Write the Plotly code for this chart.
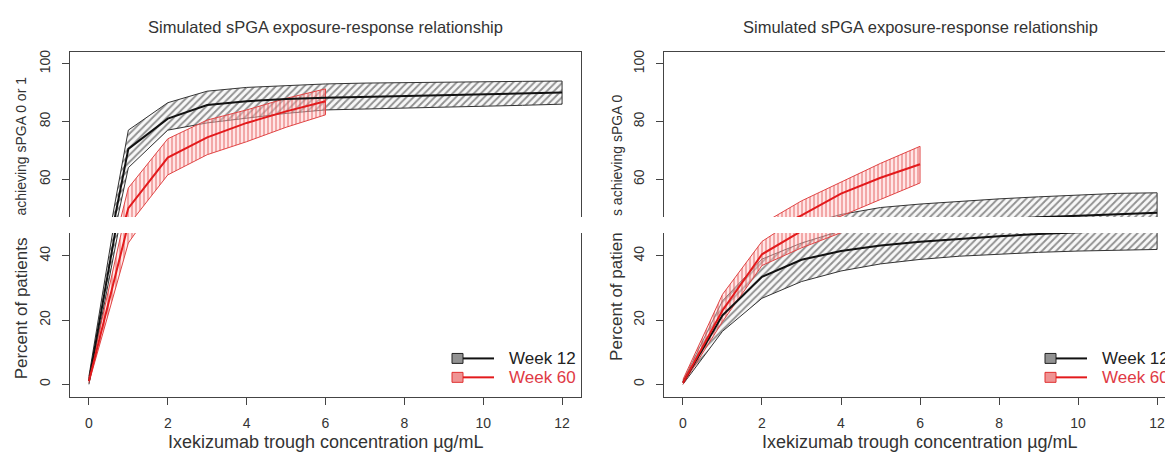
import plotly.graph_objects as go

W, H = 1165, 455
FONT = "Liberation Sans, Arial, sans-serif"
TXT = "#333333"
AX = "#444444"
BLACK = "#111111"
RED = "#e31a1c"
RED_TXT = "#e03a45"

# ---- data -------------------------------------------------------------
conc_w12 = [0, 1, 2, 3, 4, 5, 6, 7, 8, 9, 10, 11, 12]
conc_w60 = [0, 1, 2, 3, 4, 5, 6]
x_ticks = [0, 2, 4, 6, 8, 10, 12]
y_ticks_upper = [60, 80, 100]
y_ticks_lower = [0, 20, 40]
series_names = ["Week 12", "Week 60"]

# sPGA 0 or 1 : median and band limits
w12_med_01 = [1.0, 70.5, 81.0, 85.7, 87.0, 87.8, 88.2, 88.5, 88.8, 89.1, 89.4, 89.7, 90.0]
w12_lo_01 = [0.0, 64.0, 77.0, 79.5, 81.2, 82.8, 84.0, 84.3, 84.6, 84.9, 85.3, 85.6, 86.0]
w12_hi_01 = [2.5, 77.0, 86.5, 90.5, 91.8, 92.5, 93.0, 93.3, 93.5, 93.7, 93.8, 93.9, 94.0]
w60_med_01 = [1.0, 50.0, 67.5, 74.5, 79.5, 83.5, 87.0]
w60_lo_01 = [0.5, 44.0, 61.5, 68.5, 73.0, 78.0, 82.3]
w60_hi_01 = [2.0, 57.0, 74.0, 80.5, 84.0, 88.0, 91.3]

# sPGA 0 : median and band limits
w12_med_0 = [0.5, 21.5, 33.5, 38.8, 41.5, 43.2, 44.4, 45.3, 46.1, 46.8, 47.4, 47.9, 48.4]
w12_lo_0 = [0.0, 16.5, 26.8, 32.0, 35.3, 37.5, 38.9, 39.9, 40.6, 41.1, 41.5, 41.8, 42.0]
w12_hi_0 = [1.0, 26.0, 39.0, 44.0, 47.8, 50.2, 51.4, 52.4, 53.2, 53.9, 54.5, 55.1, 55.3]
w60_med_0 = [0.5, 23.0, 40.5, 47.5, 55.0, 60.5, 65.2]
w60_lo_0 = [0.0, 19.5, 37.0, 42.5, 47.2, 53.0, 58.7]
w60_hi_0 = [1.5, 28.0, 44.5, 52.5, 59.0, 65.5, 71.4]


def fx(p):
    return p / W


def fy(p):
    return 1 - p / H


fig = go.Figure()

panels = [
    dict(axes=[("x", "y"), ("x2", "y2")],
         w12=(w12_med_01, w12_lo_01, w12_hi_01),
         w60=(w60_med_01, w60_lo_01, w60_hi_01)),
    dict(axes=[("x3", "y3"), ("x4", "y4")],
         w12=(w12_med_0, w12_lo_0, w12_hi_0),
         w60=(w60_med_0, w60_lo_0, w60_hi_0)),
]


def band(xs, lo, hi, xa, ya, pattern, edge):
    return go.Scatter(
        x=list(xs) + list(xs)[::-1],
        y=list(hi) + list(lo)[::-1],
        xaxis=xa, yaxis=ya, mode="lines", fill="toself",
        line=dict(color=edge, width=1),
        fillcolor="rgba(0,0,0,0)",
        fillpattern=pattern,
        hoverinfo="skip", showlegend=False,
    )


pat12 = dict(shape="/", fgcolor="#2a2a2a", bgcolor="rgba(235,235,235,0.35)",
             size=5, solidity=0.38)
pat60 = dict(shape="|", fgcolor="#e04848", bgcolor="rgba(255,200,200,0.45)",
             size=4, solidity=0.4)

for p in panels:
    for xa, ya in p["axes"]:
        med, lo, hi = p["w12"]
        fig.add_trace(band(conc_w12, lo, hi, xa, ya, pat12, "#333333"))
        med6, lo6, hi6 = p["w60"]
        fig.add_trace(band(conc_w60, lo6, hi6, xa, ya, pat60, "#e04545"))
        fig.add_trace(go.Scatter(x=conc_w12, y=med, xaxis=xa, yaxis=ya,
                                 mode="lines", line=dict(color=BLACK, width=2),
                                 name=series_names[0], showlegend=False,
                                 hoverinfo="skip"))
        fig.add_trace(go.Scatter(x=conc_w60, y=med6, xaxis=xa, yaxis=ya,
                                 mode="lines", line=dict(color=RED, width=2),
                                 name=series_names[1], showlegend=False,
                                 hoverinfo="skip"))

# ---- axes -------------------------------------------------------------
top_dom = [fy(216), fy(50)]
bot_dom = [fy(397), fy(232)]
left_dom = [fx(70), fx(581)]
right_dom = [fx(664), 1.0]
left_rng = [-0.48, 12.48]
right_rng = [-0.48, 12.2]
top_rng = [46.9, 104.14]
bot_rng = [-4.03, 47.13]

tickfont = dict(family=FONT, size=14, color=TXT)
common = dict(showgrid=False, zeroline=False, showline=True, linecolor=AX,
              linewidth=1, fixedrange=True)


def xtop(dom, rng, anchor):
    return dict(common, domain=dom, range=rng, anchor=anchor, side="top",
                ticks="", showticklabels=False)


def xbot(dom, rng, anchor):
    return dict(common, domain=dom, range=rng, anchor=anchor, side="bottom",
                ticks="outside", ticklen=7, tickwidth=1, tickcolor=AX,
                tickvals=x_ticks, ticktext=[str(v) for v in x_ticks],
                tickfont=tickfont, ticklabelstandoff=6,
                ticklabeloverflow="allow")


def yax(dom, rng, anchor, vals, mirror):
    return dict(common, domain=dom, range=rng, anchor=anchor, mirror=mirror,
                ticks="outside", ticklen=7, tickwidth=1, tickcolor=AX,
                tickvals=vals, ticktext=[str(v) for v in vals],
                tickangle=-90, tickfont=tickfont, ticklabelstandoff=6)


fig.update_layout(
    xaxis=xtop(left_dom, left_rng, "y"),
    yaxis=yax(top_dom, top_rng, "x", y_ticks_upper, True),
    xaxis2=xbot(left_dom, left_rng, "y2"),
    yaxis2=yax(bot_dom, bot_rng, "x2", y_ticks_lower, True),
    xaxis3=xtop(right_dom, right_rng, "y3"),
    yaxis3=yax(top_dom, top_rng, "x3", y_ticks_upper, False),
    xaxis4=xbot(right_dom, right_rng, "y4"),
    yaxis4=yax(bot_dom, bot_rng, "x4", y_ticks_lower, False),
)

# ---- text -------------------------------------------------------------
ann = []
title = "Simulated sPGA exposure-response relationship"
xlab = "Ixekizumab trough concentration µg/mL"
for cx in (325.5, 920):
    ann.append(dict(text=title, x=fx(cx), y=fy(25), xref="paper", yref="paper",
                    xanchor="center", yanchor="middle", showarrow=False,
                    font=dict(family=FONT, size=16.5, color=TXT)))
    ann.append(dict(text=xlab, x=fx(cx), y=fy(442), xref="paper", yref="paper",
                    xanchor="center", yanchor="middle", showarrow=False,
                    font=dict(family=FONT, size=18, color=TXT)))

ylab_parts = [
    ("Percent of patients", 21, 380, 17),
    ("achieving sPGA 0 or 1", 21, 216, 14),
    ("Percent of patien", 617, 362, 17),
    ("s achieving sPGA 0", 617, 216, 14),
]
for txt, cx, by, size in ylab_parts:
    ann.append(dict(text=txt, x=fx(cx), y=fy(by), xref="paper", yref="paper",
                    xanchor="center", yanchor="bottom", textangle=-90,
                    showarrow=False, borderpad=0,
                    font=dict(family=FONT, size=size, color=TXT)))

# ---- legend keys ------------------------------------------------------
shapes = []
legend_rows = [(358, series_names[0], BLACK, "#222222", "rgba(110,110,110,0.75)", "#222222"),
               (377, series_names[1], RED, RED_TXT, "rgba(235,120,120,0.8)", "#e03030")]
for box_x in (452, 1045):
    for ry, name, lcol, tcol, bfill, bedge in legend_rows:
        shapes.append(dict(type="rect", xref="paper", yref="paper",
                           x0=fx(box_x), x1=fx(box_x + 11), y0=fy(ry + 5), y1=fy(ry - 5),
                           fillcolor=bfill, line=dict(color=bedge, width=1)))
        shapes.append(dict(type="line", xref="paper", yref="paper",
                           x0=fx(box_x + 11), x1=fx(box_x + 42), y0=fy(ry), y1=fy(ry),
                           line=dict(color=lcol, width=2)))
        ann.append(dict(text=name, x=fx(box_x + 55), y=fy(ry), xref="paper", yref="paper",
                        xanchor="left", yanchor="middle", showarrow=False,
                        font=dict(family=FONT, size=17, color=tcol)))

fig.update_layout(
    width=W, height=H,
    margin=dict(l=0, r=0, t=0, b=0),
    paper_bgcolor="white", plot_bgcolor="white",
    showlegend=False,
    annotations=ann, shapes=shapes,
)

fig.write_html("out.html")
